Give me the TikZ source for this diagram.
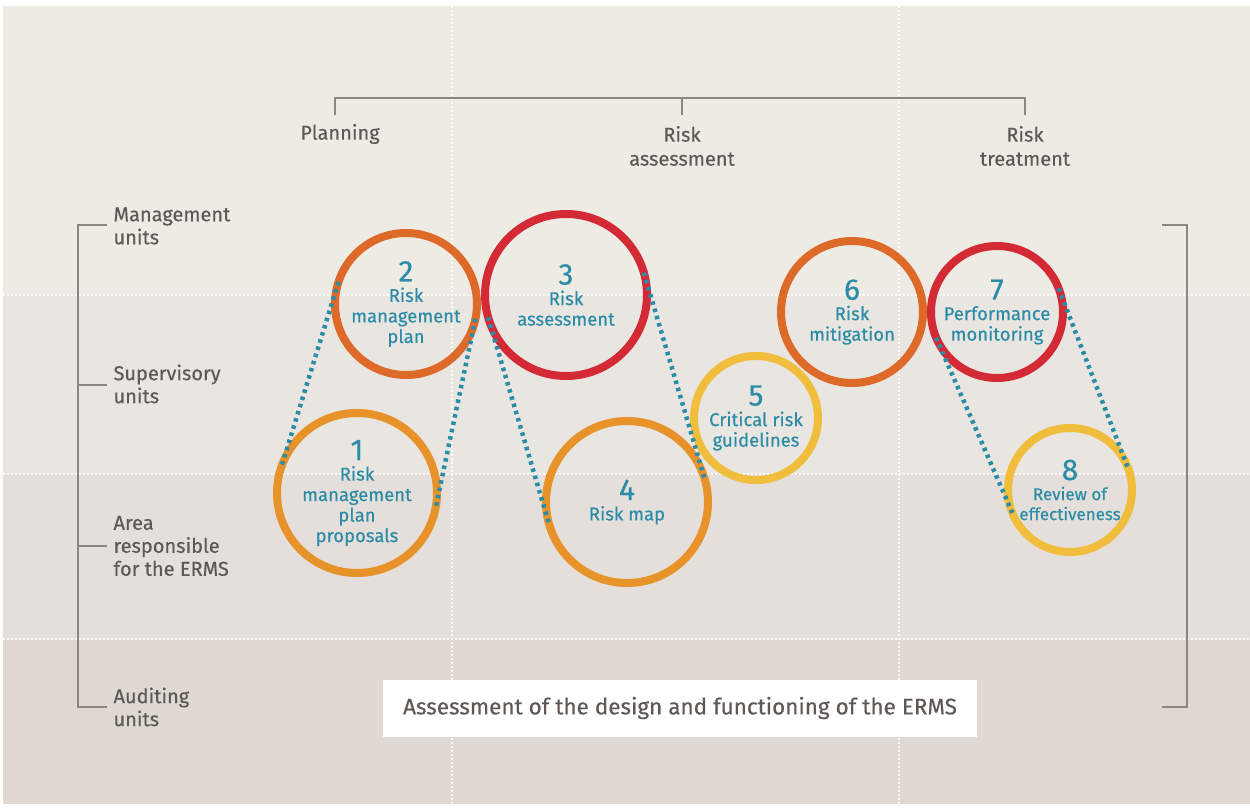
\documentclass[tikz,border=0pt]{standalone}
\usepackage{fontspec}
\setmainfont{Fira Sans}[FakeBold=0.35]

\definecolor{bandA}{HTML}{EEEBE5}
\definecolor{bandB}{HTML}{E9E5E0}
\definecolor{bandC}{HTML}{E4DFDA}
\definecolor{bandD}{HTML}{DFD8D3}
\definecolor{ringOrange}{HTML}{E8922A}
\definecolor{ringRust}{HTML}{DE6A2A}
\definecolor{ringRed}{HTML}{D42A36}
\definecolor{ringYellow}{HTML}{F0BE3C}
\definecolor{tealText}{HTML}{2A8CA6}
\definecolor{labelGray}{HTML}{5E5954}
\definecolor{lineGray}{HTML}{8C8681}

\tikzset{
    ring/.style 2 args={circle, draw=#2, line width=8pt, minimum size=#1,
        inner sep=0pt, outer sep=0pt, align=center, text=tealText,
        font=\fontsize{18.5}{20.5}\selectfont},
    dotline/.style={tealText, line width=4.5pt, dash pattern=on 3.5pt off 4pt},
    rowlabel/.style={anchor=west, align=left, text=labelGray,
        font=\fontsize{20}{23}\selectfont},
    phase/.style={align=center, text=labelGray, font=\fontsize{20}{24}\selectfont},
    bracket/.style={lineGray, line width=1.6pt},
    grid/.style={white, line width=1.4pt, dash pattern=on 2pt off 2pt, opacity=0.85}
}
\newcommand{\num}[1]{{\fontsize{30}{26}\selectfont #1}}

\begin{document}
\begin{tikzpicture}[x=1pt, y=-1pt]
    \useasboundingbox (0,0) rectangle (1250,810);
    \fill[white] (0,0) rectangle (1250,810);

    % bands
    \fill[bandA] (3,6) rectangle (1250,295);
    \fill[bandB] (3,295) rectangle (1250,474);
    \fill[bandC] (3,474) rectangle (1250,639);
    \fill[bandD] (3,639) rectangle (1250,804);
    \draw[grid] (3,295) -- (1250,295);
    \draw[grid] (3,474) -- (1250,474);
    \draw[grid] (3,639) -- (1250,639);
    \draw[grid] (452,6) -- (452,804);
    \draw[grid] (899,6) -- (899,804);

    % phases
    \draw[bracket] (335,115) -- (335,98) -- (1025,98) -- (1025,115);
    \draw[bracket] (682,98) -- (682,115);
    \node[phase] (plan) at (340,134) {Planning};
    \node[phase] (assess) at (682,146) {Risk\\assessment};
    \node[phase] (treat) at (1025,146) {Risk\\treatment};

    % units
    \draw[bracket] (107,225) -- (78,225) -- (78,707) -- (107,707);
    \draw[bracket] (78,385) -- (107,385);
    \draw[bracket] (78,546) -- (107,546);
    \draw[bracket] (1162,225) -- (1187,225) -- (1187,707) -- (1162,707);
    \node[rowlabel] (mgmt) at (110,226) {Management\\units};
    \node[rowlabel] (super) at (110,384) {Supervisory\\units};
    \node[rowlabel] (area) at (110,546) {Area\\responsible\\for the ERMS};
    \node[rowlabel] (audit) at (110,707) {Auditing\\units};

    % steps
    \node[ring={160pt}{ringOrange}] (c1) at (357,493) {\num{1}\\Risk\\management\\plan\\proposals};
    \node[ring={142pt}{ringRust}] (c2) at (406,304) {\num{2}\\Risk\\management\\plan};
    \node[ring={162pt}{ringRed}] (c3) at (566,295) {\num{3}\\Risk\\assessment};
    \node[ring={162pt}{ringOrange}] (c4) at (627,502) {\num{4}\\Risk map};
    \node[ring={124pt}{ringYellow}] (c5) at (756,418) {\num{5}\\Critical risk\\guidelines};
    \node[ring={142pt}{ringRust}] (c6) at (852,312) {\num{6}\\Risk\\mitigation};
    \node[ring={132pt}{ringRed}] (c7) at (997,312) {\num{7}\\Performance\\monitoring};
    \node[ring={124pt}{ringYellow}, font=\fontsize{17}{20}\selectfont] (c8) at (1070,490)
        {\num{8}\\Review of\\effectiveness};

    % zoom lines
    \draw[dotline] (c2.162.9) -- (c1.162.9);
    \draw[dotline] (c2.348.1) -- (c1.348.1);
    \draw[dotline] (c3.196.4) -- (c4.196.4);
    \draw[dotline] (c3.16.4) -- (c4.16.4);
    \draw[dotline] (c7.203.6) -- (c8.203.6);
    \draw[dotline] (c7.21.2) -- (c8.21.2);

    % audit box
    \node[fill=white, minimum width=594pt, minimum height=57pt, text=labelGray,
        font=\fontsize{22.5}{26}\selectfont] (box) at (680,708)
        {Assessment of the design and functioning of the ERMS};
\end{tikzpicture}
\end{document}
